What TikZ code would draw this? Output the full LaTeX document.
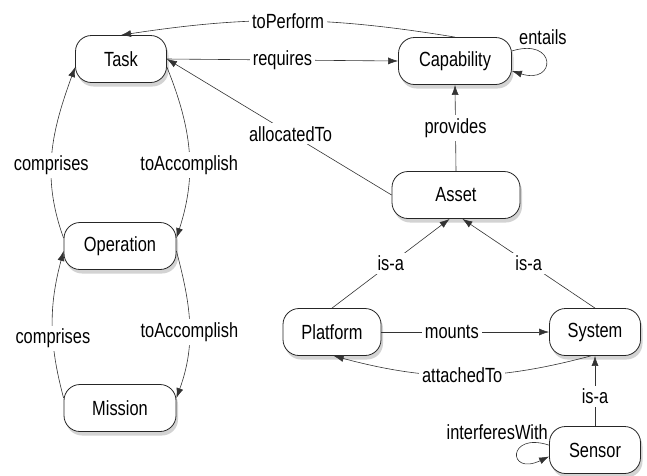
\documentclass[tikz,border=0pt]{standalone}
\usepackage{fontspec}
\setmainfont{Liberation Sans}[FakeStretch=0.8]
\usepackage{tikz}
\usetikzlibrary{arrows.meta}
\usetikzlibrary{shadows}

\begin{document}
\begin{tikzpicture}[x=1pt,y=1pt,line join=round,>={Latex[length=10pt,width=7pt]}]
\tikzstyle{cls} = [draw=black!85,line width=.8pt,fill=white,rounded corners=16pt,minimum height=47pt,font=\fontsize{20.5}{24}\selectfont,drop shadow={shadow xshift=2pt,shadow yshift=-4pt,opacity=.35}]
\tikzstyle{rel} = [fill=white,font=\fontsize{20.5}{24}\selectfont,inner sep=3pt]
\tikzstyle{link} = [draw=black!80,line width=.6pt,->]
\useasboundingbox (0,0) rectangle (647,-475);
% classes
\node[cls,minimum width=91pt] (task) at (121,-59) {Task};
\node[cls,minimum width=113pt] (cap) at (455,-61) {Capability};
\node[cls,minimum width=128pt] (asset) at (456,-195) {Asset};
\node[cls,minimum width=112pt] (oper) at (120,-246) {Operation};
\node[cls,minimum width=112pt] (mission) at (120,-408) {Mission};
\node[cls,minimum width=98pt] (platform) at (332,-332) {Platform};
\node[cls,minimum width=91pt] (system) at (595,-332) {System};
\node[cls,minimum width=91pt] (sensor) at (595,-450) {Sensor};
% relations
\draw[link] (cap.north) to[bend right=9] node[rel] {toPerform} (task.north);
\draw[link] (task.east) -- node[rel] {requires} (cap.west);
\draw[link] (asset.west) -- node[rel,pos=.45] {allocatedTo} (task.east);
\draw[link] (asset.north) -- node[rel] {provides} (cap.south);
\draw[link] (cap.10) .. controls +(45,14) and +(45,-14) .. node[pos=0,anchor=south west,inner sep=1pt,xshift=6pt,yshift=5pt,font=\fontsize{20.5}{24}\selectfont] {entails} (cap.-10);
\draw[link] (task.-10) to[out=-68,in=72] node[rel,pos=.58] {toAccomplish} (oper.8);
\draw[link] (oper.172) to[out=110,in=-110] node[rel,pos=.42] {comprises} (task.190);
\draw[link] (oper.-5) to[out=-75,in=70] node[rel,pos=.55] {toAccomplish} (mission.10);
\draw[link] (mission.170) to[out=105,in=-105] node[rel,pos=.4] {comprises} (oper.185);
\draw[link] (platform.north) -- node[rel] {is-a} (asset.-105);
\draw[link] (system.north) -- node[rel] {is-a} (asset.-75);
\draw[link] (platform.east) -- node[rel,pos=.42] {mounts} (system.west);
\draw[link] (system.-100) to[bend left=15] node[rel] {attachedTo} (platform.-86);
\draw[link] (sensor.north) -- node[rel,pos=.42] {is-a} (system.south);
\draw[link] (sensor.174) .. controls +(-42,14) and +(-42,-20) .. node[pos=0,anchor=south east,inner sep=1pt,yshift=4pt,font=\fontsize{20.5}{24}\selectfont] {interferesWith} (sensor.188);
\end{tikzpicture}
\end{document}
